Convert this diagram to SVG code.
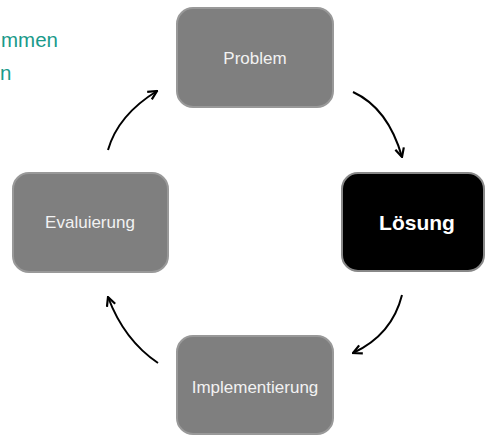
<svg xmlns="http://www.w3.org/2000/svg" width="487" height="435" viewBox="0 0 487 435">
<defs>
<style>
.box{fill:#7f7f7f;stroke:#999;stroke-width:2}
.dark{fill:#000;stroke:#888;stroke-width:2}
.lbl{font-family:"Liberation Sans",Arial,sans-serif;font-size:17px;fill:#f2f2f2;text-anchor:middle}
.big{font-family:"Liberation Sans",Arial,sans-serif;font-size:21px;font-weight:bold;fill:#fff;text-anchor:middle}
.title{font-family:"Liberation Sans",Arial,sans-serif;font-size:20.5px;fill:#1a9a8a}
.arr{fill:none;stroke:#000;stroke-width:2;marker-end:url(#ah)}
</style>
<marker id="ah" viewBox="0 0 10 10" refX="9" refY="5" markerWidth="5.5" markerHeight="5.5" orient="auto" markerUnits="strokeWidth">
<path d="M1,1 L9,5 L1,9" fill="none" stroke="#000" stroke-width="2"/>
</marker>
</defs>
<rect width="487" height="435" fill="#fff"/>
<g id="title">
<text class="title" x="1" y="47">mmen</text>
<text class="title" x="0" y="80">n</text>
</g>
<g id="connectors">
<path class="arr" d="M108,150 Q118,115 157,91"/>
<path class="arr" d="M353,92 Q388,108 402,157"/>
<path class="arr" d="M402,295 Q392,335 353,353"/>
<path class="arr" d="M158,363 Q124,340 108,297"/>
</g>
<g id="problem">
<rect class="box" x="177" y="8" width="156" height="99" rx="16"/>
<text class="lbl" x="255" y="64">Problem</text>
</g>
<g id="loesung">
<rect class="dark" x="342" y="173" width="142" height="98" rx="16"/>
<text class="big" x="417" y="230">Lösung</text>
</g>
<g id="evaluierung">
<rect class="box" x="13" y="173" width="155" height="99" rx="16"/>
<text class="lbl" x="90" y="228">Evaluierung</text>
</g>
<g id="implementierung">
<rect class="box" x="177" y="336" width="156" height="98" rx="16"/>
<text class="lbl" x="255" y="393">Implementierung</text>
</g>
</svg>
